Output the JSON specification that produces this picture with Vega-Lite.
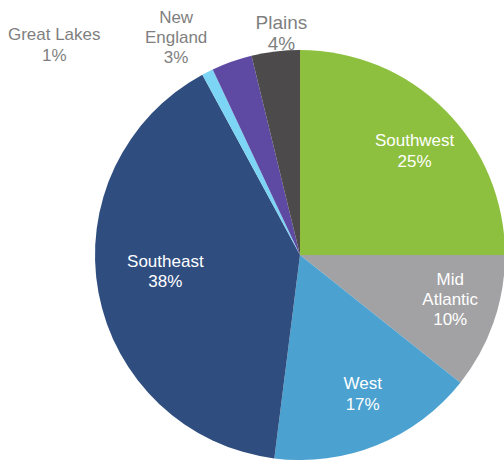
{
  "$schema": "https://vega.github.io/schema/vega-lite/v6.json",
  "width": 408,
  "height": 410,
  "autosize": "none",
  "padding": {"left": 96, "top": 50, "right": 0, "bottom": 0},
  "background": "white",
  "config": {"view": {"stroke": null}, "text": {"font": "Liberation Sans"}},
  "data": {
    "values": [
      {"region": "Southwest", "value": 25.0, "ord": 1, "label": "Southwest\n25%"},
      {"region": "Mid Atlantic", "value": 10.7, "ord": 2, "label": "Mid\nAtlantic\n10%"},
      {"region": "West", "value": 16.3, "ord": 3, "label": "West\n17%"},
      {"region": "Southeast", "value": 40.1, "ord": 4, "label": "Southeast\n38%"},
      {"region": "Great Lakes", "value": 0.9, "ord": 5, "label": "Great Lakes\n1%"},
      {"region": "New England", "value": 3.2, "ord": 6, "label": "New\nEngland\n3%"},
      {"region": "Plains", "value": 3.8, "ord": 7, "label": "Plains\n4%"}
    ]
  },
  "encoding": {
    "theta": {"field": "value", "type": "quantitative", "stack": true},
    "order": {"field": "ord", "type": "quantitative"}
  },
  "layer": [
    {
      "mark": {"type": "arc", "outerRadius": 205},
      "encoding": {
        "color": {
          "field": "region",
          "type": "nominal",
          "legend": null,
          "scale": {
            "domain": ["Southwest", "Mid Atlantic", "West", "Southeast", "Great Lakes", "New England", "Plains"],
            "range": ["#8DC03E", "#A2A2A4", "#4BA1D0", "#2F4E7F", "#7DD5F5", "#5E4AA2", "#4C4A4B"]
          }
        }
      }
    },
    {
      "mark": {"type": "text", "radius": 155, "dx": 5, "dy": -4, "fontSize": 17, "fill": "white", "lineBreak": "\n", "lineHeight": 21, "baseline": "middle"},
      "encoding": {"detail": {"field": "region", "type": "nominal"}, "text": {"condition": {"test": "datum.region === 'Southwest'", "field": "label"}, "value": ""}}
    },
    {
      "mark": {"type": "text", "radius": 157, "dx": 2, "dy": -27, "fontSize": 17, "fill": "white", "lineBreak": "\n", "lineHeight": 20, "baseline": "middle"},
      "encoding": {"detail": {"field": "region", "type": "nominal"}, "text": {"condition": {"test": "datum.region === 'Mid Atlantic'", "field": "label"}, "value": ""}}
    },
    {
      "mark": {"type": "text", "radius": 153, "dx": 5, "dy": -13, "fontSize": 17, "fill": "white", "lineBreak": "\n", "lineHeight": 21, "baseline": "middle"},
      "encoding": {"detail": {"field": "region", "type": "nominal"}, "text": {"condition": {"test": "datum.region === 'West'", "field": "label"}, "value": ""}}
    },
    {
      "mark": {"type": "text", "radius": 137, "dy": -18, "fontSize": 17, "fill": "white", "lineBreak": "\n", "lineHeight": 20, "baseline": "middle"},
      "encoding": {"detail": {"field": "region", "type": "nominal"}, "text": {"condition": {"test": "datum.region === 'Southeast'", "field": "label"}, "value": ""}}
    },
    {
      "mark": {"type": "text", "radius": 223, "dx": 8, "dy": -11, "fontSize": 19, "fill": "#7F7F7F", "lineBreak": "\n", "lineHeight": 21, "baseline": "middle"},
      "encoding": {"detail": {"field": "region", "type": "nominal"}, "text": {"condition": {"test": "datum.region === 'Plains'", "field": "label"}, "value": ""}}
    },
    {
      "mark": {"type": "text", "radius": 249, "dx": -41, "dy": -2, "fontSize": 17, "fill": "#7F7F7F", "lineBreak": "\n", "lineHeight": 20, "baseline": "middle"},
      "encoding": {"detail": {"field": "region", "type": "nominal"}, "text": {"condition": {"test": "datum.region === 'New England'", "field": "label"}, "value": ""}}
    },
    {
      "mark": {"type": "text", "radius": 250, "dx": -133, "dy": 3, "fontSize": 17, "fill": "#7F7F7F", "lineBreak": "\n", "lineHeight": 21, "baseline": "middle"},
      "encoding": {"detail": {"field": "region", "type": "nominal"}, "text": {"condition": {"test": "datum.region === 'Great Lakes'", "field": "label"}, "value": ""}}
    }
  ]
}
